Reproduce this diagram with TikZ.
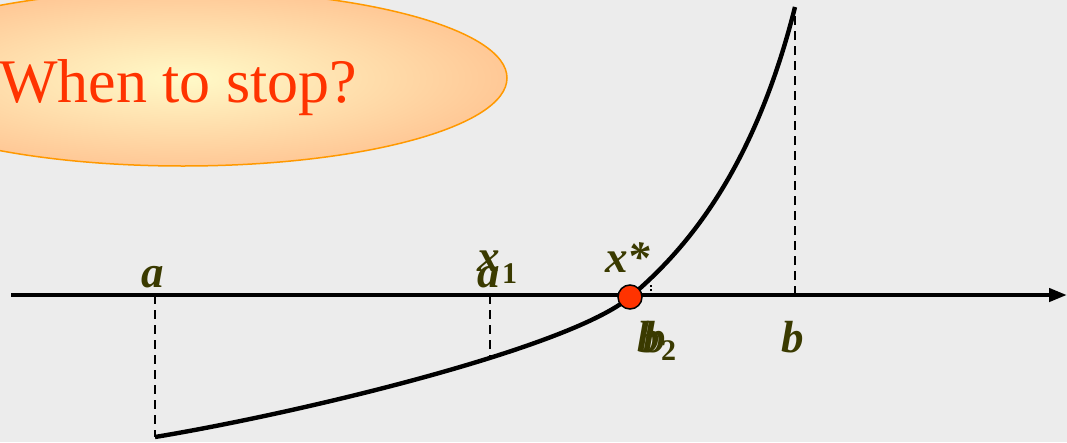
\documentclass[tikz,border=0pt]{standalone}
\usepackage{fontspec}
\setmainfont{Liberation Serif}
\usetikzlibrary{arrows.meta}
\definecolor{bg}{RGB}{236,236,236}
\definecolor{lbl}{RGB}{58,58,0}
\definecolor{txtred}{RGB}{255,51,0}
\definecolor{ellin}{RGB}{255,250,200}
\definecolor{ellout}{RGB}{255,200,150}
\definecolor{ellrim}{RGB}{255,153,0}
\tikzset{
  lab/.style={text=lbl,font=\fontsize{45}{45}\selectfont\bfseries\itshape,inner sep=0pt,anchor=base west},
  sub/.style={text=lbl,font=\fontsize{30}{30}\selectfont\bfseries,inner sep=0pt,anchor=base west},
  guide/.style={line width=2.8pt,dash pattern=on 9pt off 6pt},
  curve/.style={line width=4.4pt},
  axis/.style={line width=4.2pt,-{Triangle[length=18pt,width=13pt]}},
}
\begin{document}
\begin{tikzpicture}[x=1pt,y=-1pt]
\useasboundingbox (0,0) rectangle (1067,442);
\fill[bg] (0,0) rectangle (1067,442);
% ellipse
\begin{scope}
\clip (0,0) rectangle (1067,442);
\shade[inner color=ellin,outer color=ellout] (183,78) ellipse [x radius=324,y radius=88];
\draw[ellrim,line width=1.5pt] (183,78) ellipse [x radius=324,y radius=88];
\end{scope}
\node[text=txtred,font=\fontsize{62}{62}\selectfont,inner sep=0pt,anchor=base west] (q) at (-1,102) {When to stop?};
% coordinates
\coordinate (ax0) at (11,295);
\coordinate (ax1) at (1067,295);
\coordinate (pa) at (155,437);
\coordinate (pa1) at (490,357);
\coordinate (pb2) at (651,284);
\coordinate (pb) at (795,7);
\coordinate (fa) at (155,295);
\coordinate (fa1) at (490,295);
\coordinate (fb2) at (651,295);
\coordinate (fb) at (795,295);
% dashed guides
\draw[guide] (fa) -- (pa);
\draw[guide] (fa1) -- (pa1);
\draw[guide] (fb) -- (pb);
\draw[line width=2pt,dash pattern=on 2pt off 2pt] (fb2) -- (pb2);
% axis
\draw[axis] (ax0) -- (ax1);
% curve
\draw[curve,line join=round] (pa) .. controls (300,413) and (570,348) .. (630,297)
  .. controls (680,254.5) and (752,178) .. (pb);
% root
\node[circle,fill=txtred,draw=black,line width=1.5pt,minimum size=24pt,inner sep=0pt] (root) at (630,297) {};
% labels
\node[lab] (la) at (141,287) {a};
\node[lab] (lx1) at (477,271) {x};
\node[lab] (la1) at (477,287) {a};
\node[sub] (l1) at (502,283) {1};
\node[lab] (lxs) at (605,272) {x*};
\node[lab] (lb1) at (637,352) {b};
\node[lab] (lb2) at (643,352) {b};
\node[sub] (l2) at (661,360) {2};
\node[lab] (lb) at (781,352) {b};
\end{tikzpicture}
\end{document}
